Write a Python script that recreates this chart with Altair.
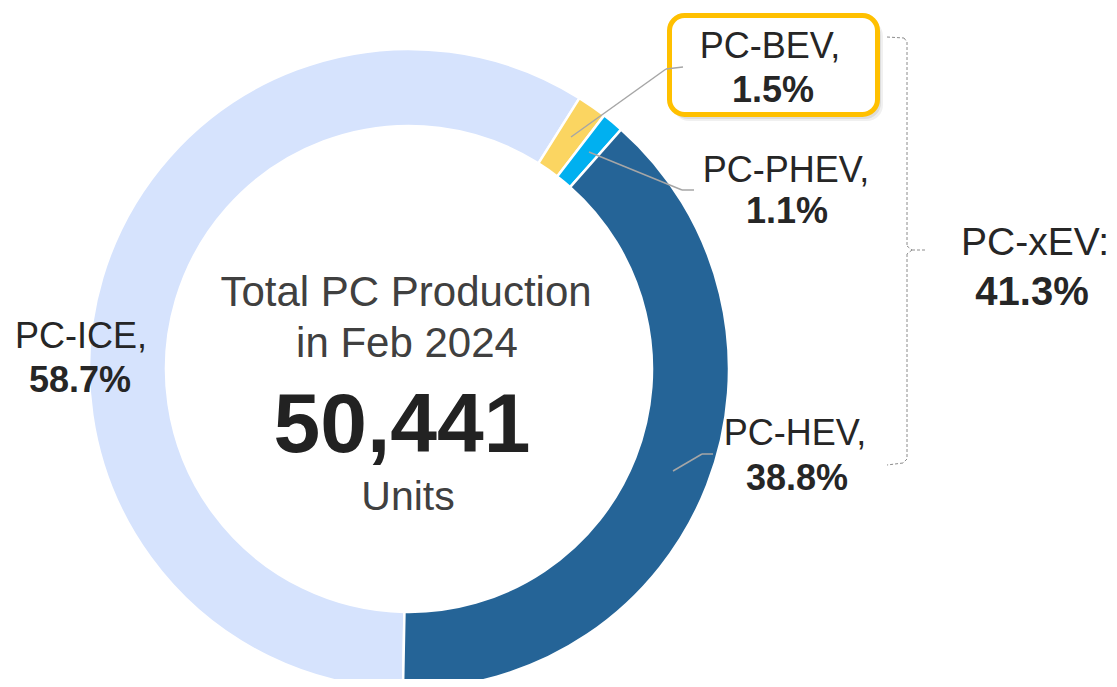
import math
import altair as alt
import pandas as pd

# ---- data ----
categories = ["PC-ICE", "PC-BEV", "PC-PHEV", "PC-HEV"]
shares = [58.7, 1.5, 1.1, 38.8]
colors = ["#D6E3FD", "#FBD561", "#00B0F0", "#256497"]
label_names = ["PC-ICE,", "PC-BEV,", "PC-PHEV,", "PC-HEV,"]
label_pcts = ["58.7%", "1.5%", "1.1%", "38.8%"]
center_lines = ["Total PC Production", "in Feb 2024"]
total_units = "50,441"
units_label = "Units"
xev_name = "PC-xEV:"
xev_share = "41.3%"

OFF = 8  # page margin


def P(v):
    return v - OFF


one = pd.DataFrame({"a": [0]})
FONT = "Liberation Sans"

df = pd.DataFrame({"cat": categories, "share": shares, "idx": list(range(len(categories)))})

start = math.pi + 0.0187
arc = alt.Chart(df).mark_arc(radius=320, radius2=243, stroke="white", strokeWidth=2.5).encode(
    theta=alt.Theta("share:Q", stack=True,
                    scale=alt.Scale(range=[start, start + 2 * math.pi])),
    color=alt.Color("cat:N", scale=alt.Scale(domain=categories, range=colors), legend=None),
    order=alt.Order("idx:Q"),
    x=alt.value(P(409)),
    y=alt.value(P(369)),
)


def txt(s, x, y, size, bold=False, color="#262626"):
    return alt.Chart(one).mark_text(
        text=s, font=FONT, fontSize=size, fontWeight="bold" if bold else "normal",
        color=color, align="center", baseline="alphabetic",
    ).encode(x=alt.value(P(x)), y=alt.value(P(y)))


def seg(x1, y1, x2, y2, color="#A6A6A6", w=1.5, dash=None):
    kw = dict(color=color, strokeWidth=w)
    if dash:
        kw["strokeDash"] = dash
    return alt.Chart(one).mark_rule(**kw).encode(
        x=alt.value(P(x1)), y=alt.value(P(y1)), x2=alt.value(P(x2)), y2=alt.value(P(y2)))


def box(x1, y1, x2, y2, **kw):
    return alt.Chart(one).mark_rect(**kw).encode(
        x=alt.value(P(x1)), y=alt.value(P(y1)), x2=alt.value(P(x2)), y2=alt.value(P(y2)))


layers = [arc]

# center text
layers += [
    txt(center_lines[0], 406, 306, 42, color="#404040"),
    txt(center_lines[1], 407, 357, 42, color="#404040"),
    txt(total_units, 402, 452, 84, bold=True, color="#222222"),
    txt(units_label, 408, 510, 41, color="#404040"),
]

# BEV call-out box with soft shadow
layers += [
    box(673, 20, 883, 121, cornerRadius=16, fill="#000000", opacity=0.06),
    box(672, 19, 881, 119, cornerRadius=16, fill="#000000", opacity=0.08),
    box(669.5, 15.5, 877.5, 114.5, cornerRadius=15, fill="white", stroke="#FFC000", strokeWidth=5),
]

# leader lines
layers += [
    seg(571, 137, 666, 69), seg(666, 69, 683, 67),
    seg(589, 152, 682, 190), seg(682, 190, 694, 190),
    seg(673, 471, 702, 454), seg(702, 454, 713, 454),
]

# brace
bc = "#8C8C8C"
bd = [3, 2]
layers += [
    seg(887, 37, 904, 38, bc, 1, bd), seg(904, 38, 907, 42, bc, 1, bd),
    seg(907, 42, 907, 246, bc, 1, bd), seg(907, 246, 912, 250, bc, 1, bd),
    seg(912, 250, 927, 250, bc, 1, bd), seg(912, 250, 907, 254, bc, 1, bd),
    seg(907, 254, 907, 459, bc, 1, bd), seg(907, 459, 903, 463, bc, 1, bd),
    seg(903, 463, 887, 465, bc, 1, bd),
]

# segment labels
layers += [
    txt(label_names[0], 81, 348, 36), txt(label_pcts[0], 80, 392, 36, bold=True),
    txt(label_names[1], 770, 58, 36), txt(label_pcts[1], 773, 102, 36, bold=True),
    txt(label_names[2], 786, 182, 36), txt(label_pcts[2], 787, 223, 36, bold=True),
    txt(label_names[3], 795, 445, 36), txt(label_pcts[3], 797, 490, 36, bold=True),
    txt(xev_name, 1035, 255, 39), txt(xev_share, 1032, 305, 40, bold=True),
]

chart = alt.layer(*layers).properties(
    width=1101, height=671,
    autosize=alt.AutoSizeParams(type="fit", contains="padding"),
    padding=0,
).configure_view(strokeWidth=0)

chart.save("out.html", embed_options={"renderer": "svg", "actions": False})
